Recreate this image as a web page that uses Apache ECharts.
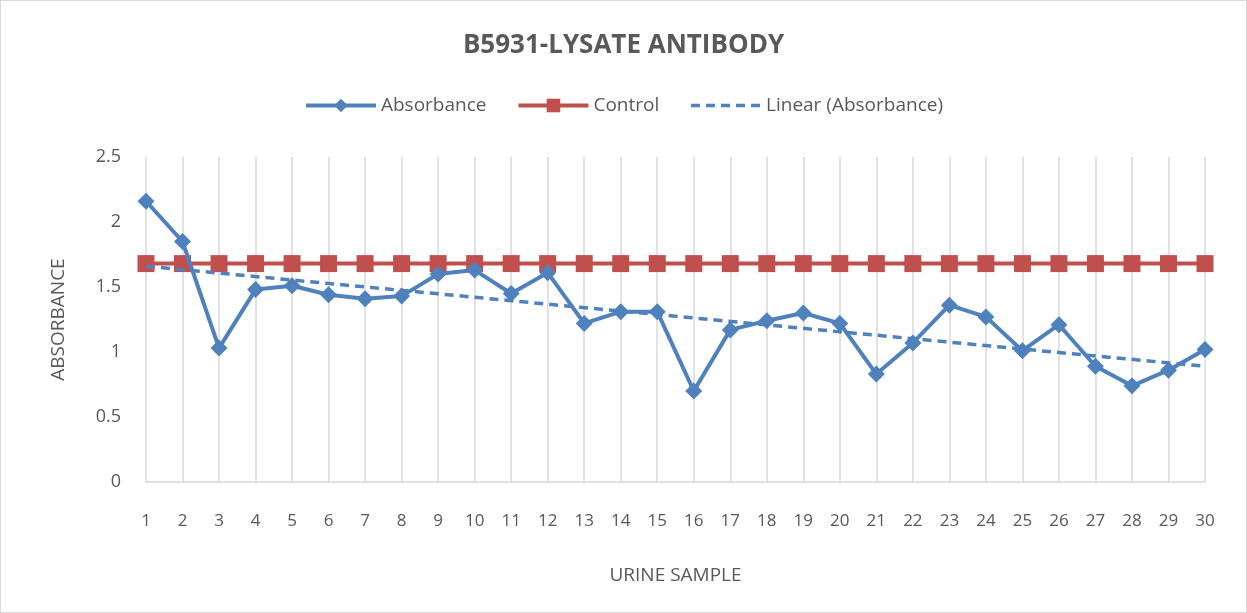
<!DOCTYPE html>
<html>
<head>
<meta charset="utf-8">
<script src="https://cdn.jsdelivr.net/npm/echarts@6/dist/echarts.min.js"></script>
<style>
  html, body { margin: 0; padding: 0; background: #fff; }
  #chart { width: 1247px; height: 613px; box-sizing: border-box; border: 1px solid #d9d9d9; }
</style>
</head>
<body>
<div id="chart"></div>
<script>
// urine sample numbers 1..30
const samples = ['1','2','3','4','5','6','7','8','9','10','11','12','13','14','15',
  '16','17','18','19','20','21','22','23','24','25','26','27','28','29','30'];
const absorbance = [2.16, 1.85, 1.03, 1.48, 1.51, 1.44, 1.41, 1.43, 1.60, 1.63,
  1.45, 1.61, 1.22, 1.31, 1.31, 0.70, 1.17, 1.24, 1.30, 1.22,
  0.83, 1.07, 1.36, 1.27, 1.01, 1.21, 0.89, 0.74, 0.86, 1.02];
const control = [1.68, 1.68, 1.68, 1.68, 1.68, 1.68, 1.68, 1.68, 1.68, 1.68,
  1.68, 1.68, 1.68, 1.68, 1.68, 1.68, 1.68, 1.68, 1.68, 1.68,
  1.68, 1.68, 1.68, 1.68, 1.68, 1.68, 1.68, 1.68, 1.68, 1.68];
// trend line end points
const trendStart = 1.66;
const trendEnd = 0.89;

const trend = samples.map((s, i) => i === 0 ? trendStart : (i === samples.length - 1 ? trendEnd : null));

const font = '"Open Sans", "Liberation Sans", sans-serif';
const textColor = '#595959';

const myChart = echarts.init(document.getElementById('chart'));
const option = {
  animation: false,
  textStyle: { fontFamily: font, color: textColor },
  title: {
    text: 'B5931-LYSATE ANTIBODY',
    left: 'center',
    top: 27,
    textStyle: { fontFamily: font, fontSize: 26, fontWeight: 'bold', color: textColor }
  },
  legend: {
    top: 90,
    left: 'center',
    itemGap: 30,
    itemWidth: 70,
    itemHeight: 17,
    textStyle: { fontFamily: font, fontSize: 19, color: textColor },
    data: [
      { name: 'Absorbance', lineStyle: { width: 4 } },
      { name: 'Control', lineStyle: { width: 4 } },
      { name: 'Linear (Absorbance)', itemStyle: { opacity: 0 }, lineStyle: { width: 3.5 } }
    ]
  },
  grid: { left: 145, right: 41, top: 156, bottom: 130 },
  xAxis: {
    type: 'category',
    data: samples,
    boundaryGap: false,
    name: 'URINE SAMPLE',
    nameLocation: 'middle',
    nameGap: 84,
    nameTextStyle: { fontFamily: font, fontSize: 19, color: textColor },
    axisLine: { lineStyle: { color: '#d9d9d9', width: 1.5 } },
    axisTick: { show: false },
    axisLabel: { fontFamily: font, fontSize: 17, color: textColor, margin: 31, interval: 0 },
    splitLine: { show: true, lineStyle: { color: '#d9d9d9', width: 1.5 } }
  },
  yAxis: {
    type: 'value',
    min: 0,
    max: 2.5,
    interval: 0.5,
    name: 'ABSORBANCE',
    nameLocation: 'middle',
    nameGap: 78,
    nameTextStyle: { fontFamily: font, fontSize: 19, color: textColor },
    axisLine: { show: false },
    axisTick: { show: false },
    axisLabel: { fontFamily: font, fontSize: 18, color: textColor, margin: 25 },
    splitLine: { show: false }
  },
  series: [
    {
      name: 'Absorbance',
      type: 'line',
      data: absorbance,
      symbol: 'diamond',
      symbolSize: 17,
      itemStyle: { color: '#4f81bd' },
      lineStyle: { color: '#4f81bd', width: 4 },
      z: 3
    },
    {
      name: 'Control',
      type: 'line',
      data: control,
      symbol: 'rect',
      symbolSize: 17,
      itemStyle: { color: '#c0504d' },
      lineStyle: { color: '#c0504d', width: 4 },
      z: 2
    },
    {
      name: 'Linear (Absorbance)',
      type: 'line',
      data: trend,
      connectNulls: true,
      symbol: 'none',
      itemStyle: { color: '#4f81bd' },
      lineStyle: { color: '#4f81bd', width: 3.5, type: [9, 6] },
      z: 4
    }
  ]
};
myChart.setOption(option);
window.onresize = () => { myChart.resize(); };
</script>
</body>
</html>
